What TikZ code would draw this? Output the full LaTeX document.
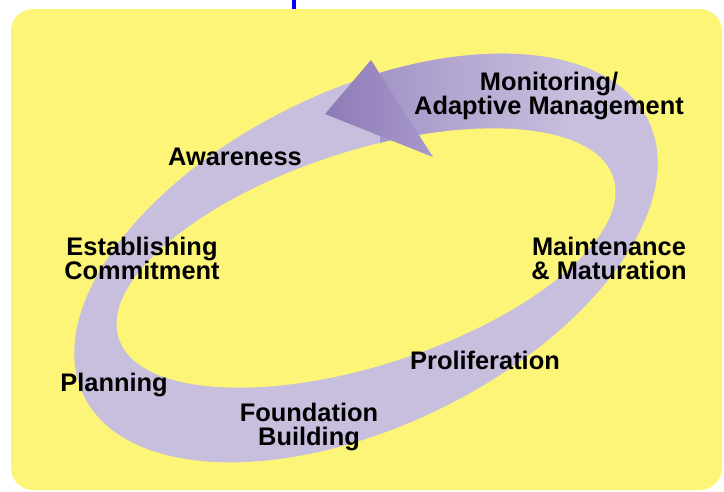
\documentclass[tikz,border=0pt]{standalone}
\usepackage{fontspec}
\setmainfont{Liberation Sans}

\definecolor{paleyellow}{RGB}{252,245,120}
\definecolor{lavender}{RGB}{200,190,221}
\definecolor{deeplav}{RGB}{165,150,200}
\definecolor{headdark}{RGB}{140,122,182}
\definecolor{headlight}{RGB}{168,153,204}

\begin{document}
\begin{tikzpicture}[x=1pt,y=-1pt,
  stage/.style={align=center,inner sep=0pt,
    font=\fontsize{25.4}{24}\selectfont\bfseries}]
\useasboundingbox (0,0) rectangle (724,491);
\fill[paleyellow,rounded corners=22pt] (11,9) rectangle (722,490);
\draw[blue,line width=3.2pt] (294,0) -- (294,9);
% the cycle band
\coordinate (mid) at (366,258);
\fill[lavender,rotate around={26:(mid)}] (mid) ellipse [x radius=314,y radius=168];
\begin{scope}
\clip[rotate around={26:(mid)}] (mid) ellipse [x radius=314,y radius=168];
\shade[left color=deeplav,right color=lavender] (380,30) rectangle (570,165);
\end{scope}
\fill[paleyellow,rotate around={18:(mid)}] (mid) ellipse [x radius=260,y radius=107];
% arrow head
\shade[left color=headdark,right color=headlight] (325,114) -- (371,60) -- (433,157) -- cycle;
% stages
\node[stage] (monitor) at (549,96) {Monitoring/\\Adaptive Management};
\node[stage] (aware) at (235,157) {Awareness};
\node[stage] (commit) at (142,258) {Establishing\\Commitment};
\node[stage] (maint) at (609,258) {Maintenance\\\& Maturation};
\node[stage] (prolif) at (485,360) {Proliferation};
\node[stage] (plan) at (114,385) {Planning};
\node[stage] (found) at (309,427) {Foundation\\Building};
\end{tikzpicture}
\end{document}
